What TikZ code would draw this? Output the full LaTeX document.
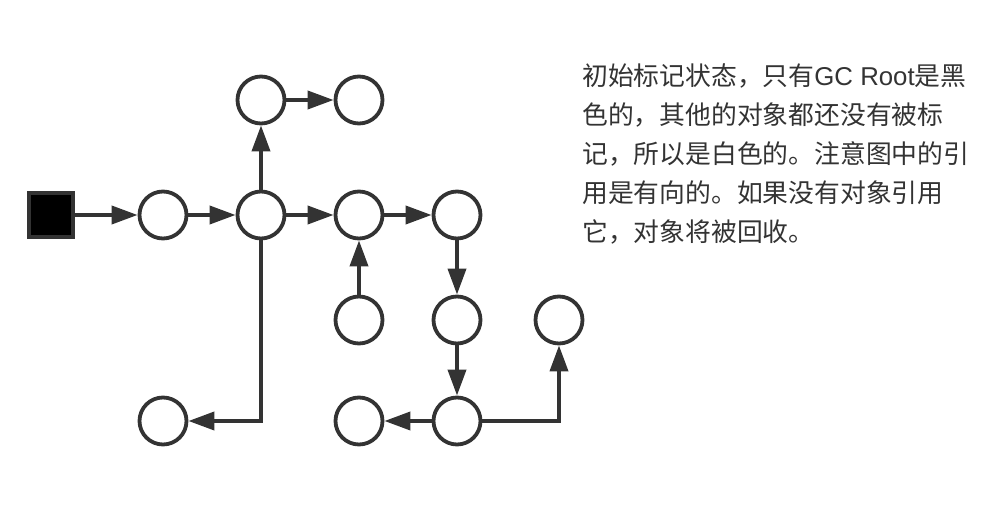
\documentclass[tikz,border=0pt]{standalone}
\usepackage{fontspec}
\usepackage{tikz}
\usetikzlibrary{arrows.meta,positioning}
\newfontfamily\cjk{Noto Sans CJK SC}
\newfontfamily\latin{Liberation Sans}
\definecolor{gcgray}{RGB}{51,51,51}
\tikzset{
  rootbox/.style={rectangle, draw=gcgray, line width=3.8pt, fill=black, minimum size=44pt, inner sep=0pt},
  obj/.style={circle, draw=gcgray, line width=3.8pt, fill=white, minimum size=47pt, inner sep=0pt},
  ref/.style={-{Triangle[length=26pt,width=18pt]}, line width=3.8pt, draw=gcgray},
  note/.style={align=left, inner sep=0pt, text=gcgray, font=\cjk\fontsize{25.8}{39}\selectfont}
}
\begin{document}
\begin{tikzpicture}[x=1pt, y=-1pt, on grid, node distance=98pt]
\useasboundingbox (0,0) rectangle (1008,518);
\node[obj] (first) at (163,215) {};
\node[rootbox, left=112pt of first] (root) {};
\node[obj, right=of first] (hub) {};
\node[obj, right=of hub] (mid) {};
\node[obj, right=of mid] (next) {};
\node[obj, above=115pt of hub] (up) {};
\node[obj, right=of up] (upnext) {};
\node[obj, below=105pt of mid] (feeder) {};
\node[obj, below=105pt of next] (chaina) {};
\node[obj, below=101pt of chaina] (chainb) {};
\node[obj, left=of chainb] (leftb) {};
\node[obj, right=102pt of chaina] (side) {};
\node[obj, below=206pt of first] (lowleft) {};
\draw[ref] (root) -- (first);
\draw[ref] (first) -- (hub);
\draw[ref] (hub) -- (mid);
\draw[ref] (mid) -- (next);
\draw[ref] (hub) -- (up);
\draw[ref] (up) -- (upnext);
\draw[ref] (feeder) -- (mid);
\draw[ref] (next) -- (chaina);
\draw[ref] (chaina) -- (chainb);
\draw[ref] (chainb) -- (leftb);
\draw[ref] (chainb) -| (side);
\draw[ref] (hub) |- (lowleft);
\node[note, anchor=north west] (text) at (582,64) {初始标记状态，只有{\latin GC Root}是黑\\色的，其他的对象都还没有被标\\记，所以是白色的。注意图中的引\\用是有向的。如果没有对象引用\\它，对象将被回收。};
\end{tikzpicture}
\end{document}
